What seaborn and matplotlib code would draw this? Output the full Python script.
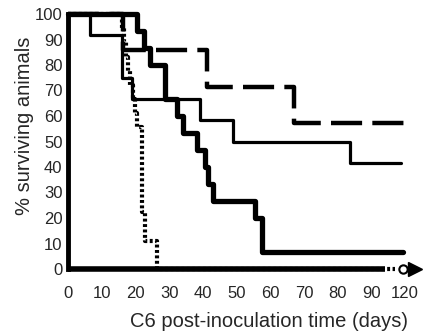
import matplotlib
matplotlib.use("Agg")
import matplotlib.pyplot as plt
import seaborn as sns
import pandas as pd

# survival curves (days, % surviving)
ctrl_days = [0, 16.0, 16.6, 17.3, 17.9, 18.5, 19.3, 19.9, 20.6, 22.0, 22.8, 26.4, 97]
ctrl_surv = [100, 94.4, 88.9, 83.3, 77.8, 72.2, 66.7, 61.1, 55.6, 22.2, 11.1, 0, 0]

thin_days = [0, 6.5, 15.9, 19.0, 39.2, 49.0, 83.7, 98.8]
thin_surv = [100, 91.7, 75.0, 66.7, 58.3, 50.0, 41.7, 41.7]

thick_days = [0, 20.5, 22.6, 24.3, 28.8, 32.3, 34.1, 38.3, 40.7, 41.5, 43.0, 55.5, 57.6, 99.4]
thick_surv = [100, 93.3, 86.7, 80.0, 66.7, 60.0, 53.3, 46.7, 40.0, 33.3, 26.7, 20.0, 6.7, 6.7]

dash_days = [0, 16.3, 41.2, 67.1, 100.0]
dash_surv = [100, 85.7, 71.4, 57.1, 57.1]

xtick_pos = [0, 10, 20, 30, 40, 50, 60, 70, 80, 90, 100]
xtick_lab = ["0", "10", "20", "30", "40", "50", "60", "70", "80", "90", "120"]
ytick_pos = [0, 10, 20, 30, 40, 50, 60, 70, 80, 90, 100]

sns.set_style("white")
plt.rcParams['font.family'] = ['Liberation Sans', 'DejaVu Sans']

fig = plt.figure(figsize=(4.28, 3.33), dpi=100)
ax = fig.add_axes([68 / 428, 64 / 333, 337 / 428, 255 / 333])

ctrl = pd.DataFrame({'day': ctrl_days, 'surv': ctrl_surv})
thin = pd.DataFrame({'day': thin_days, 'surv': thin_surv})
thick = pd.DataFrame({'day': thick_days, 'surv': thick_surv})
dash = pd.DataFrame({'day': dash_days, 'surv': dash_surv})

sns.lineplot(data=dash, x='day', y='surv', ax=ax, color='black', lw=3.2,
             drawstyle='steps-post', estimator=None, clip_on=False,
             dashes=False, linestyle=(0, (7, 2.3)))
sns.lineplot(data=thin, x='day', y='surv', ax=ax, color='black', lw=2.3,
             drawstyle='steps-post', estimator=None, clip_on=False)
sns.lineplot(data=thick, x='day', y='surv', ax=ax, color='black', lw=3.8,
             drawstyle='steps-post', estimator=None, clip_on=False)
sns.lineplot(data=ctrl, x='day', y='surv', ax=ax, color='black', lw=3.0,
             drawstyle='steps-post', estimator=None, clip_on=False,
             dashes=False, linestyle=(0, (0.7, 0.6)))

# x axis drawn by hand: thick line, then arrow head past the break
ax.plot([0, 94], [0, 0], color='black', lw=4, clip_on=False, solid_capstyle='butt')
ax.plot([103], [0], marker='>', color='black', ms=10, clip_on=False)
ax.plot([99.5], [0], marker='o', mfc='white', mec='black', mew=1.5, ms=6, clip_on=False)

ax.set_xlim(0, 100)
ax.set_ylim(0, 100)
ax.set_xticks(xtick_pos)
ax.set_xticklabels(xtick_lab)
ax.set_yticks(ytick_pos)
ax.tick_params(length=0, labelsize=12)
ax.tick_params(axis='x', pad=12)
ax.tick_params(axis='y', pad=4)

for s in ['top', 'right', 'bottom']:
    ax.spines[s].set_visible(False)
ax.spines['left'].set_linewidth(3.5)
ax.spines['left'].set_color('black')

ax.set_xlabel('C6 post-inoculation time (days)', fontsize=14.5)
ax.set_ylabel('% surviving animals', fontsize=14.5)
ax.xaxis.set_label_coords(0.595, -0.168)
ax.yaxis.set_label_coords(-0.1, 0.56)

fig.savefig('out.png', dpi=100)
